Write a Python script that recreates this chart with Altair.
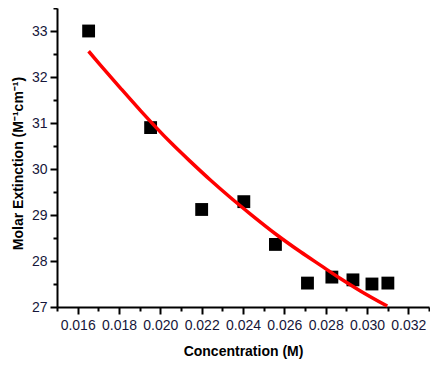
import altair as alt
import pandas as pd

# Measured data (squares)
conc = [0.01653, 0.01953, 0.02200, 0.02404, 0.02557, 0.02712, 0.02830, 0.02932, 0.03024, 0.03101]
ext = [33.00, 30.90, 29.12, 29.29, 28.36, 27.52, 27.65, 27.59, 27.50, 27.52]

# Fitted curve (red line)
fit_conc = [0.01653, 0.01710, 0.01807, 0.01904, 0.02049, 0.02146, 0.02242,
            0.02339, 0.02436, 0.02566, 0.02678, 0.02774, 0.02871, 0.02968, 0.03098]
fit_ext = [32.56, 32.26, 31.76, 31.27, 30.58, 30.16, 29.76,
           29.38, 29.02, 28.56, 28.20, 27.91, 27.62, 27.35, 27.02]

# Axis tick positions (major + minor)
x_ticks = [round(0.015 + 0.001 * i, 3) for i in range(19)]
y_ticks = [27 + 0.5 * i for i in range(14)]

pts = pd.DataFrame({"c": conc, "e": ext})
fit = pd.DataFrame({"c": fit_conc, "e": fit_ext})

FONT = "Liberation Sans"

x_axis = alt.Axis(
    title="Concentration (M)",
    values=x_ticks,
    labelExpr="round(datum.value*1000) % 2 == 0 ? format(datum.value, '.3f') : ''",
    tickSize={"condition": {"test": "round(datum.value*1000) % 2 == 0", "value": 7}, "value": 4},
    labelPadding=4,
    labelOverlap=False,
    labelFlush=False,
    grid=False,
    titleBaseline="alphabetic",
    titleY=48,
)
y_axis = alt.Axis(
    title="Molar Extinction (M⁻¹cm⁻¹)",
    values=y_ticks,
    labelExpr="datum.value % 1 == 0 ? format(datum.value, 'd') : ''",
    tickSize={"condition": {"test": "datum.value % 1 == 0", "value": 7}, "value": 4},
    labelPadding=3,
    labelOverlap=False,
    labelFlush=False,
    grid=False,
    titleBaseline="alphabetic",
    titleX=-35,
    titleY=155,
)

x_enc = alt.X("c:Q", scale=alt.Scale(domain=[0.015, 0.033], nice=False, zero=False), axis=x_axis)
y_enc = alt.Y("e:Q", scale=alt.Scale(domain=[27, 33.5], nice=False, zero=False), axis=y_axis)

squares = alt.Chart(pts).mark_square(size=165, color="black", opacity=1).encode(x=x_enc, y=y_enc)
line = alt.Chart(fit).mark_line(color="#ff0000", strokeWidth=3.5, interpolate="monotone").encode(x=x_enc, y=y_enc)

chart = alt.layer(squares, line).properties(
    width=372,
    height=299,
    autosize="none",
    padding={"left": 49, "top": 0, "right": 1, "bottom": 52},
).configure_view(stroke=None).configure_axis(
    domainColor="black",
    domainWidth=2,
    tickColor="black",
    tickWidth=2,
    labelFont=FONT,
    labelFontSize=14,
    labelColor="#16163a",
    titleFont=FONT,
    titleFontSize=14,
    titleFontWeight="bold",
    titleColor="black",
)

chart.save("out.html", embed_options={"renderer": "svg", "actions": False})
